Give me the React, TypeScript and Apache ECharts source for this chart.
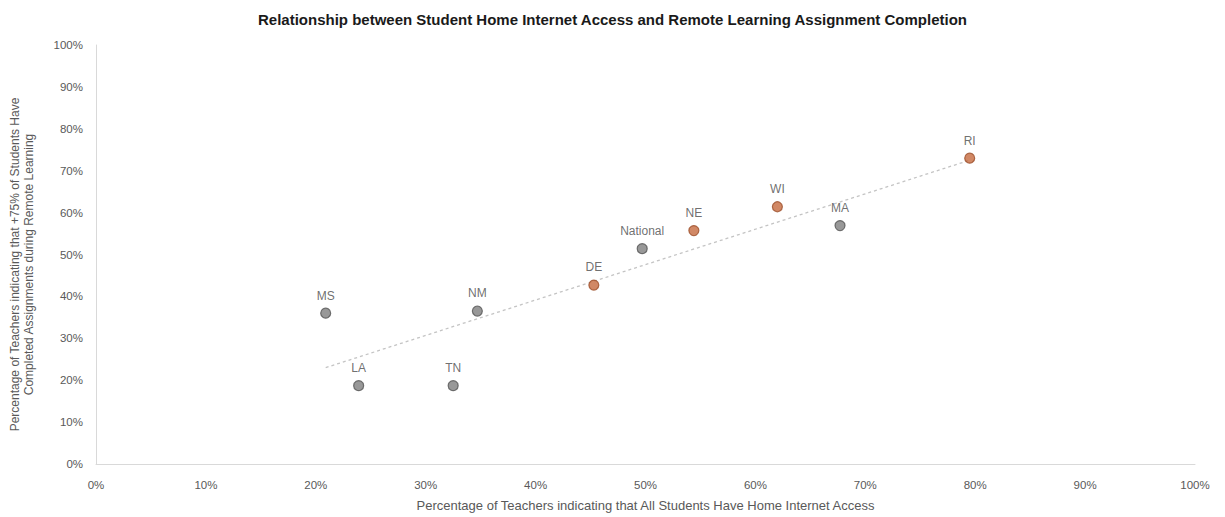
import React, { useEffect, useRef } from "react";
import * as echarts from "echarts";

// State labels and their survey results (percent of teachers)
const states = ["MS", "LA", "TN", "NM", "DE", "National", "NE", "WI", "MA", "RI"];
const internetAccess = [20.9, 23.9, 32.5, 34.7, 45.3, 49.7, 54.4, 62.0, 67.7, 79.5];
const completion = [36.0, 18.7, 18.7, 36.5, 42.7, 51.4, 55.7, 61.4, 56.9, 73.0];
// States highlighted in orange
const highlighted = ["DE", "NE", "WI", "RI"];

const xTicks = [0, 10, 20, 30, 40, 50, 60, 70, 80, 90, 100];
const yTicks = [0, 10, 20, 30, 40, 50, 60, 70, 80, 90, 100];

const titleText =
  "Relationship between Student Home Internet Access and Remote Learning Assignment Completion";
const xAxisTitle = "Percentage of Teachers indicating that All Students Have Home Internet Access";
const yAxisTitle =
  "Percentage of Teachers indicating that +75% of Students Have\nCompleted Assignments during Remote Learning";

const FONT = "'Liberation Sans', Arial, sans-serif";
const GREY = "#7e7e7e";
const ORANGE = "#c56a3e";
const TEXT = "#595959";

// Least-squares linear trend over all points
function linearTrend(xs: number[], ys: number[]) {
  const n = xs.length;
  const mx = xs.reduce((a, b) => a + b, 0) / n;
  const my = ys.reduce((a, b) => a + b, 0) / n;
  let sxy = 0;
  let sxx = 0;
  for (let i = 0; i < n; i++) {
    sxy += (xs[i] - mx) * (ys[i] - my);
    sxx += (xs[i] - mx) * (xs[i] - mx);
  }
  const slope = sxy / sxx;
  const intercept = my - slope * mx;
  const x0 = Math.min(...xs);
  const x1 = Math.max(...xs);
  return [
    [x0, intercept + slope * x0],
    [x1, intercept + slope * x1],
  ];
}

export default function App() {
  const ref = useRef<HTMLDivElement>(null);

  useEffect(() => {
    document.body.style.margin = "0";
    if (!ref.current) return;
    const chart = echarts.init(ref.current, undefined, { renderer: "svg" });

    const points = states.map((name, i) => {
      const hot = highlighted.includes(name);
      return {
        name,
        value: [internetAccess[i], completion[i]],
        itemStyle: {
          color: hot ? ORANGE : GREY,
          borderColor: hot ? "#9c4f2a" : "#555555",
          borderWidth: 1.2,
        },
      };
    });

    chart.setOption({
      animation: false,
      backgroundColor: "#ffffff",
      textStyle: { fontFamily: FONT },
      title: {
        text: titleText,
        left: "center",
        top: 7,
        textStyle: { fontFamily: FONT, fontSize: 15, fontWeight: "bold", color: "#1a1a1a" },
      },
      grid: { left: 95, right: 30, top: 45, bottom: 50, containLabel: false },
      xAxis: {
        type: "value",
        min: xTicks[0],
        max: xTicks[xTicks.length - 1],
        interval: xTicks[1] - xTicks[0],
        name: xAxisTitle,
        nameLocation: "middle",
        nameGap: 35,
        nameTextStyle: { fontFamily: FONT, fontSize: 13, color: TEXT },
        axisLine: { show: true, lineStyle: { color: "#d9d9d9", width: 1 } },
        axisTick: { show: false },
        splitLine: { show: false },
        axisLabel: {
          margin: 15,
          fontSize: 11.5,
          color: TEXT,
          fontFamily: FONT,
          formatter: (v: number) => `${v}%`,
        },
      },
      yAxis: {
        type: "value",
        min: yTicks[0],
        max: yTicks[yTicks.length - 1],
        interval: yTicks[1] - yTicks[0],
        name: yAxisTitle,
        nameLocation: "middle",
        nameRotate: 90,
        nameGap: 60,
        nameTextStyle: {
          fontFamily: FONT,
          fontSize: 12,
          color: TEXT,
          lineHeight: 14,
          align: "center",
          padding: [0, 20, 0, 0],
        },
        axisLine: { show: true, lineStyle: { color: "#d9d9d9", width: 1 } },
        axisTick: { show: false },
        splitLine: { show: false },
        axisLabel: {
          margin: 13,
          fontSize: 11.5,
          color: TEXT,
          fontFamily: FONT,
          formatter: (v: number) => `${v}%`,
        },
      },
      series: [
        {
          type: "line",
          data: linearTrend(internetAccess, completion),
          symbol: "none",
          silent: true,
          lineStyle: { color: "#c4c4c4", width: 1.3, type: [3, 3] },
          z: 1,
        },
        {
          type: "scatter",
          data: points,
          symbolSize: 10,
          z: 2,
          label: {
            show: true,
            position: "top",
            distance: 6,
            formatter: (p: any) => p.name,
            fontFamily: FONT,
            fontSize: 12,
            color: "#4a4a4a",
          },
        },
      ],
    });

    return () => chart.dispose();
  }, []);

  return <div ref={ref} style={{ width: 1225, height: 517 }} />;
}
